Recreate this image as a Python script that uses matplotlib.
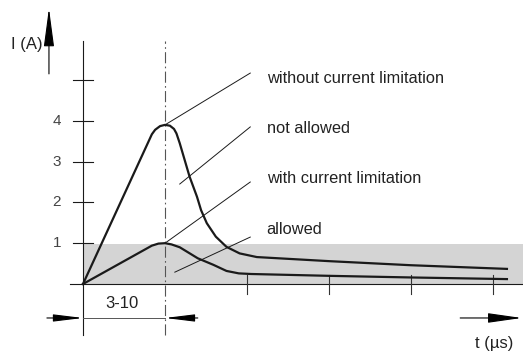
import matplotlib.pyplot as plt
from matplotlib import font_manager

# peak current vs time, schematic (time axis normalised so the peak sits at t = 1)
T_WITHOUT = [0, 0.84, 0.88, 0.94, 1.0, 1.06, 1.11, 1.14, 1.18, 1.24, 1.30, 1.39, 1.44, 1.51, 1.62,
             1.75, 1.91, 2.12, 3.0, 4.0, 5.17]
I_WITHOUT = [0, 3.67, 3.78, 3.87, 3.9, 3.88, 3.8, 3.69, 3.45, 3.04, 2.63, 2.14, 1.81, 1.49, 1.16,
             0.91, 0.75, 0.66, 0.56, 0.46, 0.37]

T_WITH = [0, 0.84, 0.92, 1.0, 1.08, 1.18, 1.4, 1.59, 1.75, 1.9, 2.05, 3.0, 4.0, 5.17]
I_WITH = [0, 0.94, 0.99, 1.0, 0.97, 0.9, 0.63, 0.47, 0.32, 0.26, 0.245, 0.2, 0.16, 0.12]

ALLOWED_LIMIT = 0.97
Y_TICKS = [1, 2, 3, 4, 5]
Y_TICK_LABELS = ["1", "2", "3", "4", ""]
X_TICKS = [2, 3, 4, 5]

LABELS = ["without current limitation", "not allowed", "with current limitation", "allowed"]
LABEL_Y = [4.93, 3.70, 2.48, 1.23]
LEADER_START = [(1.0, 3.9), (1.18, 2.45), (1.0, 1.0), (1.12, 0.29)]
LEADER_END = [(2.04, 5.17), (2.04, 3.85), (2.04, 2.5), (2.04, 1.15)]

font_names = {f.name for f in font_manager.fontManager.ttflist}
FONT = "Liberation Sans" if "Liberation Sans" in font_names else "DejaVu Sans"
plt.rcParams["font.family"] = [FONT, "DejaVu Sans"]

INK = "#1a1a1a"
GREY_TEXT = "#444444"

fig = plt.figure(figsize=(5.23, 3.54), dpi=100)
ax = fig.add_axes([0, 0, 1, 1])
ax.set_xlim(-1.012, 5.366)
ax.set_ylim(-1.716, 6.961)
ax.axis("off")

# allowed region
ax.fill_between([0, 5.37], 0, ALLOWED_LIMIT, color="#d4d4d4", lw=0, zorder=0)

# axes lines
ax.plot([0, 0], [-1.25, 5.96], color=INK, lw=0.8)
ax.plot([-0.16, 5.37], [0, 0], color=INK, lw=0.8)
for y, lab in zip(Y_TICKS, Y_TICK_LABELS):
    ax.plot([-0.12, 0.12], [y, y], color=INK, lw=0.8)
    ax.text(-0.32, y, lab, ha="center", va="center", fontsize=11, color=GREY_TEXT)
for x in X_TICKS:
    ax.plot([x, x], [-0.25, 0.22], color="#333333", lw=0.8)

# peak marker
ax.plot([1, 1], [-1.25, 5.96], color="#555555", lw=0.8, dashes=(10, 3, 1.5, 3))

# current curves
ax.plot(T_WITHOUT, I_WITHOUT, color=INK, lw=1.6, solid_joinstyle="round")
ax.plot(T_WITH, I_WITH, color=INK, lw=1.6, solid_joinstyle="round")

# labels with leader lines
for lab, ly, (x0, y0), (x1, y1) in zip(LABELS, LABEL_Y, LEADER_START, LEADER_END):
    ax.plot([x0, x1], [y0, y1], color=INK, lw=0.7)
    ax.text(2.24, ly, lab, ha="left", va="baseline", fontsize=11.8, color="#222222")

# axis arrows and titles
arrow = dict(arrowstyle="-|>,head_length=2.4,head_width=0.32", color="black",
             lw=0.8, shrinkA=0, shrinkB=0)
ax.annotate("", xy=(-0.415, 6.76), xytext=(-0.415, 5.15), arrowprops=arrow)
ax.text(-0.49, 5.86, "I (A)", ha="right", va="center", fontsize=12, color="#222222")

ax.annotate("", xy=(5.35, -0.833), xytext=(4.6, -0.833),
            arrowprops=dict(arrow, arrowstyle="-|>,head_length=2.1,head_width=0.3"))
ax.text(5.01, -1.45, "t (\u00b5s)", ha="center", va="center", fontsize=12, color="#222222")

# rise time dimension
dim = dict(arrowstyle="-|>,head_length=1.8,head_width=0.22", color="black",
           lw=0.8, shrinkA=0, shrinkB=0)
ax.plot([0, 1], [-0.833, -0.833], color="#555555", lw=0.7)
ax.annotate("", xy=(0, -0.833), xytext=(-0.44, -0.833), arrowprops=dim)
ax.annotate("", xy=(1, -0.833), xytext=(1.40, -0.833), arrowprops=dim)
ax.text(0.48, -0.47, "3-10", ha="center", va="center", fontsize=12, color="#222222")

fig.savefig("out.png", dpi=100)
